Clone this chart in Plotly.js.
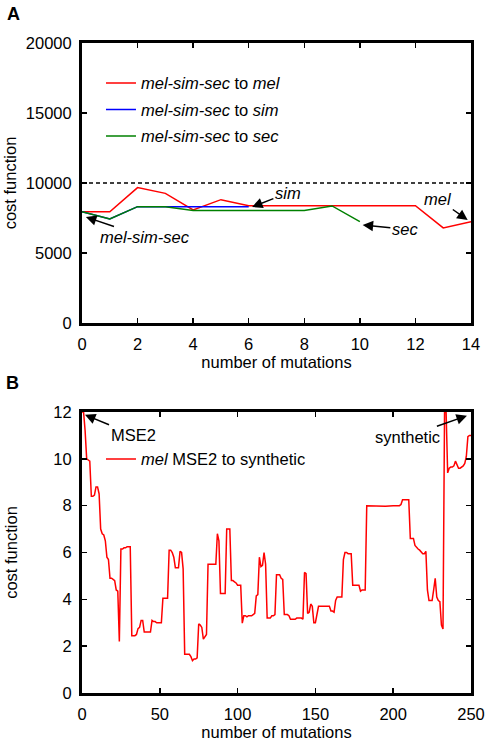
<!DOCTYPE html>
<html>
<head>
<meta charset="utf-8">
<script src="https://cdn.plot.ly/plotly-3.0.1.min.js"></script>
<style>html,body{margin:0;padding:0;background:#fff;}#chart{width:489px;height:744px;}</style>
</head>
<body>
<div id="chart"></div>
<script>
// ---- Panel A data ----
var mutA = [0, 1, 2, 3, 4, 5, 6, 7, 8, 9, 10, 11, 12, 13, 14];
var costMel = [7950, 7950, 9670, 9260, 8080, 8810, 8380, 8380, 8380, 8380, 8380, 8380, 8380, 6790, 7240];
var mutSim = [0, 1, 2, 3, 4, 5, 6];
var costSim = [7950, 7430, 8310, 8310, 8310, 8310, 8310];
var mutSec = [0, 1, 2, 3, 4, 5, 6, 7, 8, 9, 10];
var costSec = [7950, 7430, 8310, 8310, 8030, 8030, 8030, 8030, 8030, 8360, 7240];
var thresholdX = [0, 14];
var thresholdY = [10000, 10000];
var namesA = ["<i>mel-sim-sec</i> to <i>mel</i>", "<i>mel-sim-sec</i> to <i>sim</i>", "<i>mel-sim-sec</i> to <i>sec</i>"];

// ---- Panel B data ----
var mutB = [0,1,2,3,4,5,6,7,8,9,10,11,12,13,14,15,16,17,18,19,20,21,22,23,24,25,26,27,28,29,30,31,32,33,34,35,36,37,38,39,40,41,42,43,44,45,46,47,48,49,50,
51,52,53,54,55,56,57,58,59,60,61,62,63,64,65,66,67,68,69,70,71,72,73,74,75,76,77,78,79,80,81,82,83,84,85,86,87,88,89,90,91,92,93,94,95,96,97,98,99,100,
101,102,103,104,105,106,107,108,109,110,111,112,113,114,115,116,117,118,119,120,121,122,123,124,125,126,127,128,129,130,131,132,133,134,135,136,137,138,139,140,
141,142,143,144,145,146,147,148,149,150,151,152,155,159,160,161,162,163,164,167,168,169,170,171,173,174,178,179,180,182,183,188,190,195,200,204,205,206,210,
211,212,213,214,215,216,217,218,219,220,221,222,223,224,225,226,227,228,229,230,231,232,233,234,235,236,237,238,239,240,241,242,243,244,245,246,247,248,249,250];
var costB = [12.0,12.0,11.2,10.0,9.95,9.9,8.4,8.4,8.45,8.8,8.8,8.5,7.0,6.8,6.75,6.5,5.8,5.7,4.9,4.9,4.85,4.8,4.4,4.35,2.2,6.15,6.15,6.2,6.2,6.25,6.25,6.25,2.45,2.45,2.45,2.5,2.75,2.8,3.1,3.1,2.6,2.6,2.6,2.6,2.6,3.1,3.05,3.05,3.0,3.0,3.0,
3.0,4.05,4.05,4.05,4.05,6.1,6.1,6.0,5.8,5.35,5.35,5.35,6.05,6.0,5.3,1.65,1.65,1.65,1.65,1.55,1.38,1.45,1.45,1.5,2.95,2.9,2.8,2.3,2.4,2.5,5.5,5.5,5.5,5.5,5.5,5.5,6.8,6.5,4.25,4.25,4.25,4.25,7.0,7.0,7.0,4.8,4.8,4.75,4.7,4.6,
4.6,4.6,2.98,3.3,3.3,3.25,3.3,3.3,3.3,3.35,3.4,4.15,4.2,5.8,5.4,5.45,6.0,5.5,3.2,3.2,3.2,3.3,3.3,3.35,5.05,5.05,5.05,4.9,4.85,3.35,3.35,3.35,3.3,3.15,3.15,3.15,3.15,3.2,3.2,3.2,
3.2,3.15,5.15,5.1,3.4,3.45,3.8,3.7,3.0,3.0,3.3,3.7,3.7,3.7,3.5,3.5,3.45,3.95,4.1,4.1,5.7,6.0,6.0,5.95,5.95,4.6,4.6,4.35,4.4,4.4,8.0,7.98,8.0,7.98,8.0,8.0,8.05,8.25,8.25,
6.6,6.6,6.6,6.3,6.2,6.15,6.1,6.0,5.95,5.95,6.05,4.4,3.95,3.95,3.95,4.4,4.9,4.1,3.95,3.9,2.9,2.73,12.0,12.0,9.4,9.6,9.65,9.65,9.7,9.9,9.7,9.6,9.6,9.65,9.7,9.8,10.1,10.95,11.0,11.0];
var nameB = "<i>mel</i> MSE2 to synthetic";

var FONT = "Liberation Sans, Arial, Helvetica, sans-serif";
var FS = 16.5;

var traces = [
  {x: thresholdX, y: thresholdY, xaxis: 'x', yaxis: 'y', mode: 'lines', line: {color: '#000000', width: 1.5, dash: '4px,3px'}, showlegend: false, hoverinfo: 'skip'},
  {x: mutA, y: costMel, xaxis: 'x', yaxis: 'y', mode: 'lines', name: namesA[0], legendgroup: 'g1', line: {color: '#ff0000', width: 1.5}, legend: 'legend'},
  {x: mutSim, y: costSim, xaxis: 'x', yaxis: 'y', mode: 'lines', name: namesA[1], legendgroup: 'g2', line: {color: '#0000ff', width: 1.5}, legend: 'legend'},
  {x: mutSec, y: costSec, xaxis: 'x', yaxis: 'y', mode: 'lines', name: namesA[2], legendgroup: 'g3', line: {color: '#008000', width: 1.5}, legend: 'legend'},
  {x: mutB, y: costB, xaxis: 'x2', yaxis: 'y2', mode: 'lines', name: nameB, line: {color: '#ff0000', width: 1.5}, legend: 'legend2'}
];

function axisBase() {
  return {
    showgrid: false, zeroline: false, showline: true, linecolor: '#000', linewidth: 3, mirror: 'allticks',
    ticks: 'inside', ticklen: 5, tickwidth: 1.5, tickcolor: '#000',
    tickfont: {family: FONT, size: FS, color: '#000'},
    title: {font: {family: FONT, size: FS, color: '#000'}}
  };
}

var xa = axisBase(); xa.domain = [0, 1]; xa.range = [0, 14]; xa.dtick = 2; xa.tick0 = 0; xa.anchor = 'y'; xa.title.text = 'number of mutations'; xa.title.standoff = 5; xa.ticklabelstandoff = 4;
var ya = axisBase(); ya.domain = [0.5692, 1]; ya.range = [0, 20000]; ya.dtick = 5000; ya.tick0 = 0; ya.tickformat = 'd'; ya.anchor = 'x'; ya.title.text = 'cost function'; ya.title.standoff = 6; ya.ticklabelstandoff = 4;
var xb = axisBase(); xb.domain = [0, 1]; xb.range = [0, 250]; xb.dtick = 50; xb.tick0 = 0; xb.anchor = 'y2'; xb.title.text = 'number of mutations'; xb.title.standoff = 5; xb.ticklabelstandoff = 4;
var yb = axisBase(); yb.domain = [0, 0.4323]; yb.range = [0, 12]; yb.dtick = 2; yb.tick0 = 0; yb.anchor = 'x2'; yb.title.text = 'cost function'; yb.title.standoff = 32; yb.ticklabelstandoff = 4;

function note(text, x, y, ax, ay, xr, yr, italic) {
  return {
    text: italic ? '<i>' + text + '</i>' : text,
    x: x, y: y, ax: ax, ay: ay, xref: xr, yref: yr, axref: xr, ayref: yr,
    showarrow: true, arrowhead: 2, arrowsize: 1.4, arrowwidth: 1.5, arrowcolor: '#000',
    font: {family: FONT, size: FS, color: '#000'}
  };
}

var layout = {
  width: 489, height: 744,
  margin: {l: 82, r: 18, t: 43, b: 51},
  paper_bgcolor: '#fff', plot_bgcolor: '#fff',
  font: {family: FONT, size: FS, color: '#000'},
  xaxis: xa, yaxis: ya, xaxis2: xb, yaxis2: yb,
  legend: {x: 0.0488, y: 0.965, xanchor: 'left', yanchor: 'top', bgcolor: 'rgba(0,0,0,0)', font: {family: FONT, size: FS, color: '#000'}, tracegroupgap: 2},
  legend2: {x: 0.0488, y: 0.3866, xanchor: 'left', yanchor: 'top', bgcolor: 'rgba(0,0,0,0)', font: {family: FONT, size: FS, color: '#000'}},
  annotations: [
    note('sim', 6.12, 8286, 7.41, 9286, 'x', 'y', true),
    note('mel', 13.88, 7357, 12.81, 8857, 'x', 'y', true),
    note('sec', 10.1, 7000, 11.62, 6714, 'x', 'y', true),
    note('mel-sim-sec', 0.14, 7571, 2.27, 6143, 'x', 'y', true),
    note('MSE2', 1.9, 11.88, 32.8, 11.03, 'x2', 'y2', false),
    note('synthetic', 247.4, 11.84, 208.9, 10.94, 'x2', 'y2', false),
    {text: '<b>A</b>', x: -0.175, y: 1.0446, xref: 'paper', yref: 'paper', xanchor: 'center', yanchor: 'middle', showarrow: false, font: {family: FONT, size: 18, color: '#000'}},
    {text: '<b>B</b>', x: -0.178, y: 0.477, xref: 'paper', yref: 'paper', xanchor: 'center', yanchor: 'middle', showarrow: false, font: {family: FONT, size: 18, color: '#000'}}
  ],
  showlegend: true
};

Plotly.newPlot('chart', traces, layout, {displayModeBar: false, staticPlot: true});
</script>
</body>
</html>
